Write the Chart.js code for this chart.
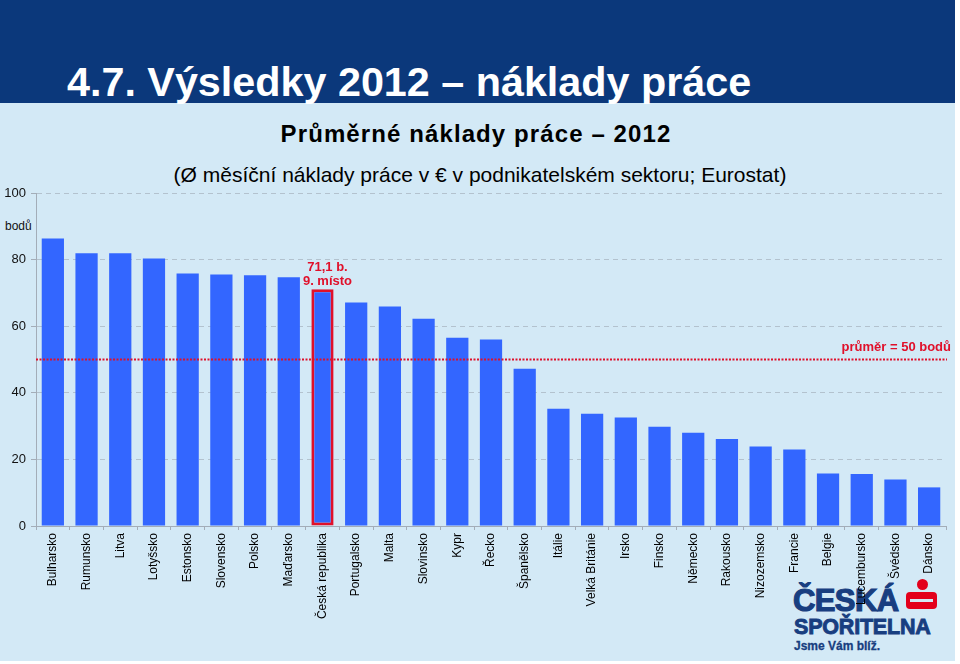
<!DOCTYPE html>
<html>
<head>
<meta charset="utf-8">
<script src="https://cdn.jsdelivr.net/npm/chart.js@4/dist/chart.umd.min.js"></script>
<style>
  html, body { margin: 0; padding: 0; background: #ffffff; }
  body { width: 960px; height: 664px; position: relative; overflow: hidden; font-family: "Liberation Sans", Arial, sans-serif; }
  #panel { position: absolute; left: 0; top: 0; width: 955px; height: 661px; background: #D3E9F6; }
  #header { position: absolute; left: 0; top: 0; width: 955px; height: 103px; background: #0B387B; }
  .txt { position: absolute; white-space: nowrap; line-height: 1; }
  #title { left: 67px; top: 62px; font-size: 41.3px; font-weight: bold; color: #ffffff; }
  #sub1 { left: 0; width: 952px; text-align: center; top: 122px; font-size: 24px; font-weight: bold; color: #000; letter-spacing: 1.1px; }
  #sub2 { left: 0; width: 960px; text-align: center; top: 164px; font-size: 21px; color: #000; }
  #unit { left: 5px; top: 220px; font-size: 12px; color: #111; }
  #logo { position: absolute; left: 793px; top: 578px; width: 150px; height: 80px; color: #183E80; }
  #logo .l1 { left: 0; top: 7px; font-size: 31px; font-weight: bold; letter-spacing: -0.6px; -webkit-text-stroke: 1.2px #183E80; }
  #logo .l2 { left: 1px; top: 39px; font-size: 21.5px; font-weight: bold; letter-spacing: -0.2px; -webkit-text-stroke: 0.9px #183E80; }
  #logo .l3 { left: 1px; top: 62px; font-size: 12px; font-weight: bold; -webkit-text-stroke: 0.3px #183E80; }
  #sdot { position: absolute; left: 124px; top: 1px; width: 11px; height: 11px; border-radius: 50%; background: #E3001B; }
  #sbox { position: absolute; left: 113px; top: 14px; width: 31px; height: 17px; border-radius: 4px; background: #E3001B; overflow: hidden; }
  #sbox .g { position: absolute; left: 4px; top: 7px; width: 23px; height: 3px; background: #D3E9F6; }
  canvas { position: absolute; left: 0; top: 0; }
</style>
</head>
<body>
<div id="panel"></div>
<div id="header"></div>
<div class="txt" id="title">4.7. Výsledky 2012 – náklady práce</div>
<div class="txt" id="sub1">Průměrné náklady práce – 2012</div>
<div class="txt" id="sub2">(Ø měsíční náklady práce v € v podnikatelském sektoru; Eurostat)</div>
<div class="txt" id="unit">bodů</div>
<div id="logo">
  <div class="txt l1">ČESKÁ</div>
  <div id="sdot"></div>
  <div id="sbox"><div class="g"></div></div>
  <div class="txt l2">SPOŘITELNA</div>
  <div class="txt l3">Jsme Vám blíž.</div>
</div>
<canvas id="c" width="955" height="661"></canvas>
<script>
const categories = ["Bulharsko","Rumunsko","Litva","Lotyšsko","Estonsko","Slovensko","Polsko","Maďarsko","Česká republika","Portugalsko","Malta","Slovinsko","Kypr","Řecko","Španělsko","Itálie","Velká Británie","Irsko","Finsko","Německo","Rakousko","Nizozemsko","Francie","Belgie","Lucembursko","Švédsko","Dánsko"];
const values = [86.3, 81.9, 81.9, 80.3, 75.8, 75.5, 75.3, 74.7, 71.1, 67.1, 65.9, 62.2, 56.5, 56.0, 47.2, 35.2, 33.7, 32.6, 29.8, 28.0, 26.1, 23.9, 23.0, 15.8, 15.6, 14.0, 11.6];
const yTicks = [0, 20, 40, 60, 80, 100];
const highlight = "Česká republika";
const highlightLabel = ["71,1 b.", "9. místo"];
const averageValue = 50;
const averageLabel = "průměr = 50 bodů";

const FONT = "'Liberation Sans', Arial, sans-serif";
const RED = "#E0102A";
const hiIndex = categories.indexOf(highlight);

const annotations = {
  id: 'annotations',
  afterDatasetsDraw(chart) {
    const ctx = chart.ctx;
    const area = chart.chartArea;
    const y = chart.scales.y.getPixelForValue(averageValue);
    ctx.save();
    ctx.strokeStyle = RED;
    ctx.lineWidth = 2;
    ctx.setLineDash([2, 1.5]);
    ctx.beginPath();
    ctx.moveTo(area.left, y);
    ctx.lineTo(area.right + 1, y);
    ctx.stroke();
    ctx.setLineDash([]);
    ctx.fillStyle = RED;
    ctx.font = "bold 13px " + FONT;
    ctx.textAlign = 'right';
    ctx.textBaseline = 'alphabetic';
    ctx.fillText(averageLabel, area.right + 5, y - 9);
    const bar = chart.getDatasetMeta(0).data[hiIndex];
    ctx.textAlign = 'center';
    ctx.fillText(highlightLabel[0], bar.x + 5, bar.y - 18);
    ctx.fillText(highlightLabel[1], bar.x + 5, bar.y - 4);
    ctx.restore();
  }
};

new Chart(document.getElementById('c'), {
  type: 'bar',
  data: {
    labels: categories,
    datasets: [{
      data: values,
      backgroundColor: '#3366FF',
      borderColor: RED,
      borderWidth: (c) => c.dataIndex === hiIndex ? 3 : 0,
      borderSkipped: false,
      barPercentage: 0.66,
      categoryPercentage: 1
    }]
  },
  options: {
    responsive: false,
    animation: false,
    devicePixelRatio: 1,
    layout: { padding: { left: 0, top: 193, right: 9, bottom: 0 } },
    plugins: { legend: { display: false }, tooltip: { enabled: false }, title: { display: false } },
    scales: {
      x: {
        afterFit(s) { s.height = 135; },
        grid: { display: true, drawOnChartArea: false, drawTicks: true, tickLength: 4, color: '#A3ADB8', offset: true },
        border: { display: true, color: '#A3ADB8', width: 1 },
        ticks: { autoSkip: false, maxRotation: 90, minRotation: 90, padding: 3, color: '#000', font: { family: FONT, size: 12 } }
      },
      y: {
        min: 0, max: 100,
        afterFit(s) { s.width = 36; },
        afterBuildTicks(s) { s.ticks = yTicks.map(v => ({ value: v })); },
        grid: { color: (c) => c.tick && c.tick.value === 0 ? '#A3ADB8' : '#B3C2CE', lineWidth: 1, tickLength: 5, tickColor: '#A3ADB8', tickBorderDash: [] },
        border: { display: true, color: '#A3ADB8', dash: [5, 4] },
        ticks: { padding: 5, color: '#111', font: { family: FONT, size: 13 } }
      }
    }
  },
  plugins: [annotations]
});
</script>
</body>
</html>
